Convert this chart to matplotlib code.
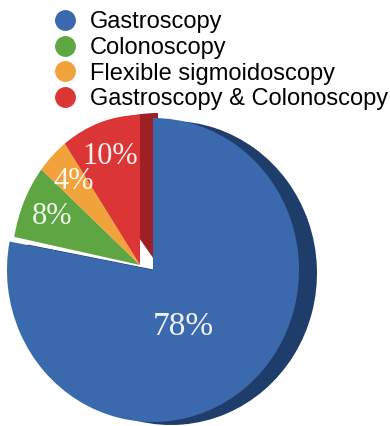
import matplotlib
matplotlib.use('Agg')
from matplotlib import pyplot as plt
from matplotlib.lines import Line2D

# Данные
procedures = ['Gastroscopy', 'Colonoscopy', 'Flexible sigmoidoscopy', 'Gastroscopy & Colonoscopy']
shares = [78, 8, 4, 10]
colors = ['#3B69AD', '#5DA642', '#F2A23A', '#DC3535']

rim_blue = '#1F3D6B'
side_red = '#9E1F24'

W, H = 390, 426

fig = plt.figure(figsize=(W / 100, H / 100), dpi=100)


def pct_for(show):
    it = iter(show)
    return lambda p: '{:.0f}%'.format(p) if next(it) else ''


def only(idx, col):
    return [col if i in idx else 'none' for i in range(len(shares))]


def ell_axes(rx, ry):
    # оси на всю картинку, круг радиуса ry растянут по x до rx
    a = fig.add_axes([0, 0, 1, 1])
    return a, ry, rx / ry


def finish(a, sx):
    a.set_xlim(0, W / sx)
    a.set_ylim(0, H)
    a.set_aspect('auto')
    a.axis('off')


# --- большой синий сектор (+ тени) ---
ax1, R1, sx1 = ell_axes(146, 152)
bx, by = 153, H - 270
common1 = dict(startangle=90, counterclock=False, radius=R1, frame=True,
               wedgeprops=dict(linewidth=0))
ax1.pie(shares, colors=only([0], rim_blue), center=((bx + 18) / sx1, by - 3), **common1)
ax1.pie(shares, colors=only([3], side_red), center=((bx + 5) / sx1, by + 5), **common1)
_, _, txt_big = ax1.pie(shares, colors=only([0], colors[0]), center=(bx / sx1, by),
                        autopct=pct_for([1, 0, 0, 0]), pctdistance=0.5,
                        textprops=dict(color='white', fontsize=24, family=['Liberation Serif']),
                        **common1)
txt_big[0].set_position((183 / sx1, H - 327))
finish(ax1, sx1)

# --- выдвинутые маленькие секторы ---
ax2, R2, sx2 = ell_axes(128, 150)
sx_, sy_ = 140, H - 265
common2 = dict(startangle=90, counterclock=False, radius=R2, frame=True,
               wedgeprops=dict(linewidth=0))
_, _, txt_small = ax2.pie(shares, colors=['none'] + colors[1:], center=(sx_ / sx2, sy_),
                          autopct=pct_for([0, 1, 1, 1]), pctdistance=0.76,
                          textprops=dict(color='white', fontsize=22, family=['Liberation Serif']),
                          **common2)
finish(ax2, sx2)

for t in txt_small + txt_big:
    t.set_alpha(0.92)

# Легенда
handles = [Line2D([], [], linestyle='none', marker='o', markersize=14,
                  markerfacecolor=c, markeredgecolor=c) for c in colors]
fig.legend(handles, procedures, loc='upper left', bbox_to_anchor=(53 / W, 1 - 11 / H),
           frameon=False, labelspacing=0.16, handlelength=1.0,
           handletextpad=0.57, borderpad=0, borderaxespad=0,
           prop=dict(family='Liberation Sans', size=17))

fig.savefig('out.png', dpi=100)
